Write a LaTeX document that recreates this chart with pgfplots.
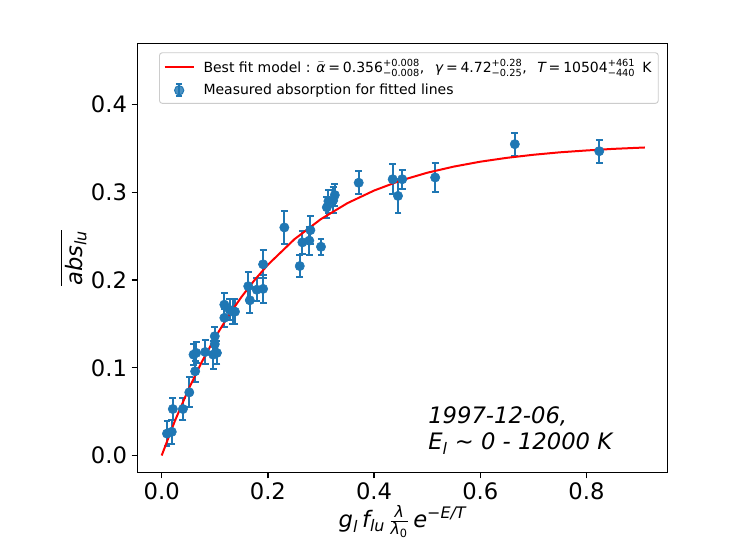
\documentclass[border=0pt]{standalone}
\usepackage{fontspec}
\setmainfont{DejaVu Sans}
\usepackage{amsmath}
\usepackage{pgfplots}
\pgfplotsset{compat=1.18}
\definecolor{c0}{HTML}{1F77B4}
\newcommand{\mi}[1]{\text{\itshape #1}}
\newcommand{\eq}{\hspace{0.2em}=\hspace{0.2em}}
\begin{document}
\begin{tikzpicture}[x=1pt,y=1pt]
\path[use as bounding box] (0,0) rectangle (557.25pt,417.75pt);
\begin{axis}[
  at={(102.98pt,63.23pt)}, anchor=south west,
  scale only axis, width=397.8pt, height=322.05pt,
  xmin=-0.0459, xmax=0.9529, ymin=-0.0196, ymax=0.4700,
  xtick={0,0.2,0.4,0.6,0.8}, ytick={0,0.1,0.2,0.3,0.4},
  tick align=outside, major tick length=4.2pt,
  tick style={line width=0.95pt, black},
  axis line style={line width=0.95pt, black},
  xtick pos=bottom, ytick pos=left,
  tick label style={font=\fontsize{17}{20}\selectfont},
  /pgf/number format/.cd, fixed, fixed zerofill, precision=1, assume math mode=true,
  /pgfplots/.cd,
  xlabel={$\mi{g}_{\mi{l}}\,\mi{f}_{\mi{lu}}\,\frac{\mi{λ}}{\mi{λ}_{\text{0}}}\,\mi{e}^{\text{−}\mi{E/T}}$},
  ylabel={$\overline{\mi{abs}_{\mi{lu}}}$},
  label style={font=\fontsize{17}{20}\selectfont},
  xlabel style={at={(rel axis cs:0.5,-0.1148)}, anchor=center},
  ylabel style={at={(rel axis cs:-0.1203,0.5)}, anchor=center, rotate=0},
  legend cell align=left,
  legend style={at={(rel axis cs:0.041,0.979)}, anchor=north west,
    font=\fontsize{10.5}{13}\selectfont, draw=black!20, rounded corners=2pt,
    fill=white, fill opacity=0.8, text opacity=1, line width=0.7pt,
    row sep=3.5pt, inner ysep=3pt, inner xsep=3pt},
]
\addplot+[forget plot, only marks, mark=*, mark size=3.5pt, c0,
  mark options={fill=c0, draw=c0},
  error bars/.cd, y dir=both, y explicit,
  error bar style={line width=1.5pt, c0},
  error mark options={rotate=90, mark size=2.6pt, line width=1.5pt, c0}]
coordinates {
(0.010,0.025) +- (0,0.014)
(0.019,0.027) +- (0,0.014)
(0.021,0.053) +- (0,0.012)
(0.040,0.053) +- (0,0.013)
(0.052,0.072) +- (0,0.017)
(0.063,0.096) +- (0,0.012)
(0.060,0.115) +- (0,0.012)
(0.065,0.117) +- (0,0.012)
(0.082,0.118) +- (0,0.014)
(0.097,0.115) +- (0,0.016)
(0.104,0.117) +- (0,0.013)
(0.100,0.136) +- (0,0.010)
(0.100,0.127) +- (0,0.010)
(0.118,0.172) +- (0,0.013)
(0.118,0.157) +- (0,0.010)
(0.128,0.166) +- (0,0.012)
(0.134,0.164) +- (0,0.014)
(0.138,0.164) +- (0,0.014)
(0.163,0.193) +- (0,0.016)
(0.166,0.177) +- (0,0.014)
(0.179,0.189) +- (0,0.013)
(0.191,0.190) +- (0,0.016)
(0.191,0.218) +- (0,0.016)
(0.231,0.260) +- (0,0.019)
(0.260,0.216) +- (0,0.013)
(0.265,0.243) +- (0,0.013)
(0.278,0.245) +- (0,0.016)
(0.280,0.257) +- (0,0.016)
(0.300,0.238) +- (0,0.009)
(0.311,0.283) +- (0,0.012)
(0.314,0.290) +- (0,0.013)
(0.323,0.291) +- (0,0.015)
(0.326,0.297) +- (0,0.012)
(0.371,0.311) +- (0,0.013)
(0.435,0.315) +- (0,0.017)
(0.445,0.296) +- (0,0.019)
(0.453,0.315) +- (0,0.011)
(0.515,0.317) +- (0,0.016)
(0.665,0.355) +- (0,0.013)
(0.824,0.347) +- (0,0.013)
};
\addplot[red, line width=1.5pt, no marks,
  legend image code/.code={\draw[red, line width=1.5pt] (0pt,0pt) -- (22pt,0pt); \path (26.5pt,0pt);}]
coordinates {
(0,0) (0.025,0.0396) (0.05,0.0748) (0.075,0.1061) (0.1,0.1339) (0.125,0.1587)
(0.15,0.1806) (0.175,0.2001) (0.2,0.2175) (0.25,0.2466) (0.3,0.2696) (0.35,0.2878)
(0.4,0.3021) (0.45,0.3135) (0.5,0.3224) (0.55,0.3294) (0.6,0.3350) (0.65,0.3394)
(0.7,0.3429) (0.75,0.3457) (0.8,0.3478) (0.85,0.3496) (0.91,0.3512)
};
\addlegendentry{Best fit model : $\bar{\mi{α}}$\eq 0.356$^{\text{+0.008}}_{\text{−0.008}}$,\hspace{0.75em}$\mi{γ}$\eq 4.72$^{\text{+0.28}}_{\text{−0.25}}$,\hspace{0.75em}$\mi{T}$\eq 10504$^{\text{+461}}_{\text{−440}}$\enspace K}
\addlegendimage{legend image code/.code={
  \draw[c0, line width=1.5pt] (11pt,-4.5pt) -- (11pt,4.5pt);
  \draw[c0, line width=1.5pt] (8.6pt,-4.5pt) -- (13.4pt,-4.5pt);
  \draw[c0, line width=1.5pt] (8.6pt,4.5pt) -- (13.4pt,4.5pt);
  \fill[c0] (11pt,0pt) circle (3.5pt);
  \path (0pt,0pt) (26.5pt,0pt);}}
\addlegendentry{Measured absorption for fitted lines}
\node[anchor=base west, font=\fontsize{17}{20}\selectfont\itshape, inner sep=0pt] at (axis cs:0.5015,0.0367) {1997-12-06,};
\node[anchor=base west, font=\fontsize{17}{20}\selectfont\itshape, inner sep=0pt] at (axis cs:0.5015,0.0063) {\mi{E}$_{\mi{l}}$ \textasciitilde{} 0 - 12000 K};
\end{axis}
\end{tikzpicture}
\end{document}
